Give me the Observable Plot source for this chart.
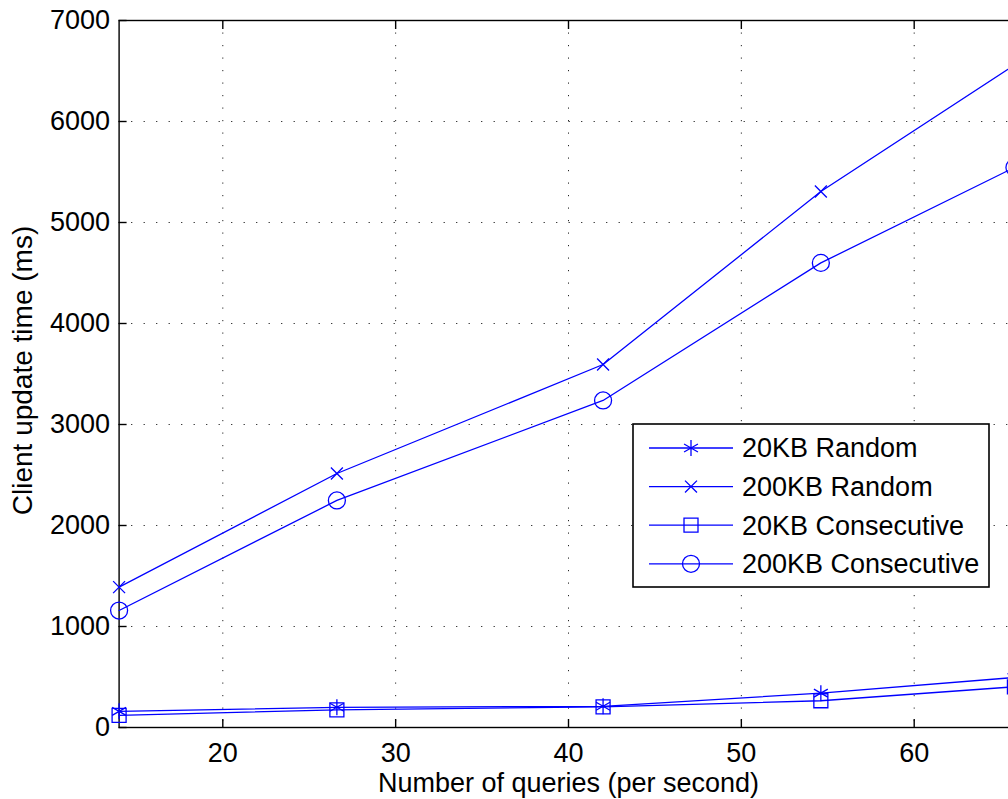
<!DOCTYPE html>
<html>
<head>
<meta charset="utf-8">
<script src="https://cdn.jsdelivr.net/npm/d3@7"></script>
<script src="https://cdn.jsdelivr.net/npm/@observablehq/plot@0.6"></script>
<style>
  html, body { margin: 0; padding: 0; background: #fff; overflow: hidden; }
  #wrap { position: relative; width: 1008px; height: 799px; overflow: hidden; }
  #chart { width: 1030px; }
  #chart svg { max-width: none !important; width: 1030px !important; height: 799px !important; display: block; }
  #legend { position: absolute; left: 632px; top: 423px; }
</style>
</head>
<body>
<div id="wrap"><div id="chart"></div><div id="legend"></div></div>
<script>
// ---- data ----
const queries = [14, 26.6, 42, 54.6, 65.8];
const seriesNames = ["20KB Random", "200KB Random", "20KB Consecutive", "200KB Consecutive"];
const random20 = [160, 200, 210, 340, 495];
const random200 = [1390, 2515, 3594, 5307, 6560];
const consecutive20 = [120, 175, 205, 265, 403];
const consecutive200 = [1158, 2248, 3238, 4600, 5545];
const xTicks = [20, 30, 40, 50, 60];
const yTicks = [0, 1000, 2000, 3000, 4000, 5000, 6000, 7000];
const xLabel = "Number of queries (per second)";
const yLabel = "Client update time (ms)";

const symbols = ["asterisk", "times", "square", "circle"];
const symbolR = [7.6, 5.5, 7.9, 8.5];
const allValues = [random20, random200, consecutive20, consecutive200];
const rows = seriesNames.flatMap((name, i) =>
  queries.map((q, j) => ({series: name, x: q, y: allValues[i][j]})));

const blue = "#0000ff";
const font = "'Liberation Sans', Arial, Helvetica, sans-serif";

const marks = [
  Plot.gridX(xTicks, {stroke: "#000", strokeOpacity: 0.85, strokeWidth: 1, strokeDasharray: "1.2,11.3"}),
  Plot.gridY(yTicks.slice(1, -1), {stroke: "#000", strokeOpacity: 0.85, strokeWidth: 1, strokeDasharray: "1.2,11.3"}),
  Plot.frame({stroke: "#000", strokeWidth: 1.4}),
  Plot.axisX(xTicks, {anchor: "bottom", tickSize: -8, tickFormat: () => "", label: null, strokeWidth: 1.4}),
  Plot.axisX(xTicks, {anchor: "top", tickSize: -8, tickFormat: () => "", label: null, strokeWidth: 1.4}),
  Plot.axisY(yTicks, {anchor: "left", tickSize: -8, tickFormat: () => "", label: null, strokeWidth: 1.4}),
  Plot.axisX(xTicks, {anchor: "bottom", tickSize: 0, tickPadding: 15, label: null, fill: "#000", tickFormat: d => String(d)}),
  Plot.axisY(yTicks, {anchor: "left", tickSize: 0, tickPadding: 9, label: null, fill: "#000", tickFormat: d => String(d)}),
  Plot.text([xLabel], {frameAnchor: "bottom", dy: 56, lineAnchor: "middle", textAnchor: "middle", text: d => d, fill: "#000"}),
  Plot.text([yLabel], {frameAnchor: "left", dx: -96, dy: -3.5, rotate: -90, lineAnchor: "middle", textAnchor: "middle", fontSize: 28, text: d => d, fill: "#000"})
];
seriesNames.forEach((name, i) => {
  const data = rows.filter(d => d.series === name);
  marks.push(Plot.line(data, {x: "x", y: "y", stroke: blue, strokeWidth: 1.3}));
  marks.push(Plot.dot(data, {x: "x", y: "y", symbol: symbols[i], r: symbolR[i], stroke: blue, fill: "none", strokeWidth: 1.3}));
});

const chart = Plot.plot({
  width: 1030,
  height: 799,
  marginLeft: 118.6,
  marginRight: 12.6,
  marginTop: 20,
  marginBottom: 72,
  x: {domain: [14, 66]},
  y: {domain: [0, 7000]},
  style: {fontFamily: font, fontSize: "27px", background: "#fff", color: "#000", overflow: "visible", maxWidth: "none"},
  marks
});
document.getElementById("chart").appendChild(chart);

// ---- legend (drawn over the plot, like the original) ----
const lw = 358, lh = 165;
const svg = d3.select("#legend").append("svg").attr("width", lw).attr("height", lh)
  .style("font-family", font).style("font-size", "27px");
svg.append("rect").attr("x", 1).attr("y", 1).attr("width", lw - 2).attr("height", lh - 2)
  .attr("fill", "#fff").attr("stroke", "#000").attr("stroke-width", 1.6);
const symMap = {asterisk: d3.symbolAsterisk, times: d3.symbolTimes, square: d3.symbolSquare, circle: d3.symbolCircle};
seriesNames.forEach((name, i) => {
  const cy = 25 + i * 38.6;
  const g = svg.append("g");
  g.append("line").attr("x1", 17).attr("x2", 101).attr("y1", cy).attr("y2", cy)
    .attr("stroke", blue).attr("stroke-width", 1.3);
  g.append("path").attr("transform", `translate(59,${cy})`)
    .attr("d", d3.symbol(symMap[symbols[i]], symbolR[i] * symbolR[i] * Math.PI)())
    .attr("fill", "none").attr("stroke", blue).attr("stroke-width", 1.3);
  g.append("text").attr("x", 110).attr("y", cy).attr("dy", "0.35em").attr("fill", "#000").text(name);
});
</script>
</body>
</html>
